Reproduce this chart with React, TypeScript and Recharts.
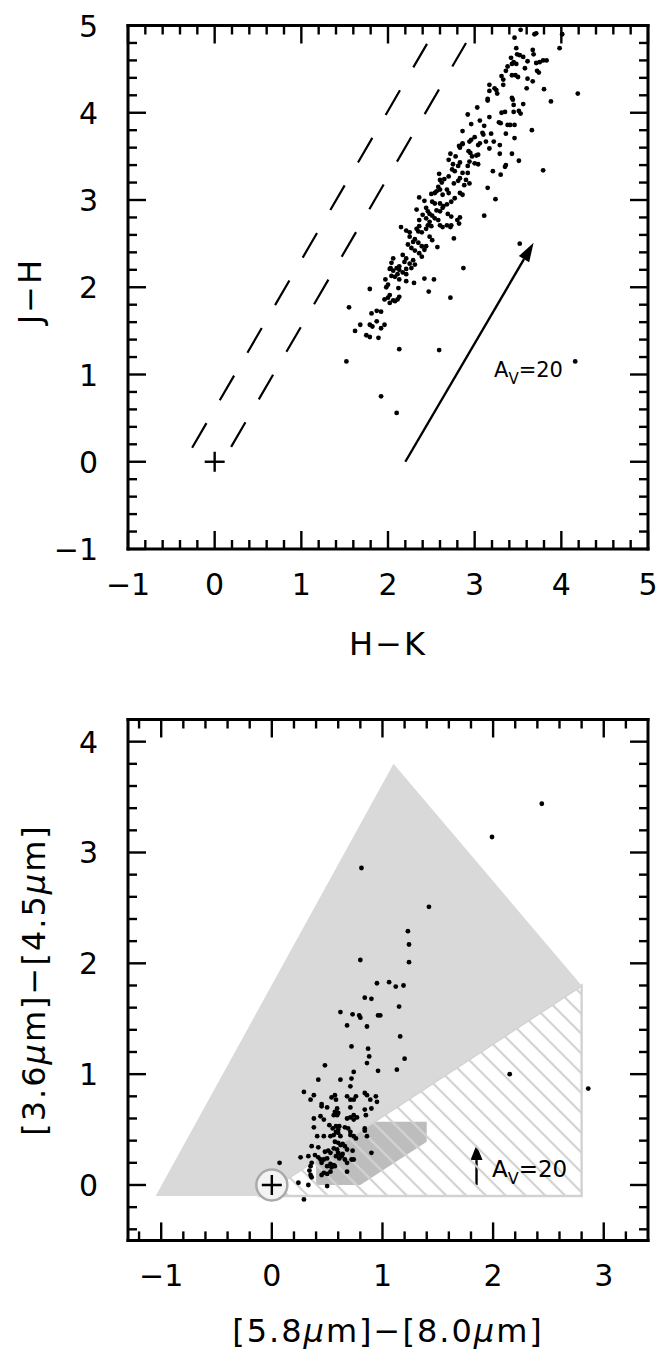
import React from "react";
import { ScatterChart, Scatter, XAxis, YAxis, ReferenceLine } from "recharts";

// ---- top panel: J-H vs H-K ----
const hkTicks = [-1, -0.8, -0.6, -0.4, -0.2, 0, 0.2, 0.4, 0.6, 0.8, 1, 1.2, 1.4, 1.6, 1.8, 2, 2.2, 2.4, 2.6, 2.8, 3, 3.2, 3.4, 3.6, 3.8, 4, 4.2, 4.4, 4.6, 4.8, 5];
const jhTicks = [-1, -0.8, -0.6, -0.4, -0.2, 0, 0.2, 0.4, 0.6, 0.8, 1, 1.2, 1.4, 1.6, 1.8, 2, 2.2, 2.4, 2.6, 2.8, 3, 3.2, 3.4, 3.6, 3.8, 4, 4.2, 4.4, 4.6, 4.8, 5];

// [H-K, J-H]
const nirStars: [number, number][] = [
  [3.53, 4.95], [3.69, 4.9], [3.71, 4.91], [4.01, 4.9], [3.46, 4.86], [3.98, 4.74], [3.48, 4.74], [3.67, 4.72],
  [3.49, 4.67], [3.52, 4.66], [3.68, 4.67], [3.42, 4.63], [3.56, 4.64], [3.45, 4.58], [3.43, 4.56], [3.38, 4.53],
  [3.48, 4.56], [3.61, 4.59], [3.71, 4.57], [3.75, 4.58], [3.83, 4.6], [3.79, 4.6], [3.36, 4.48], [3.58, 4.51],
  [3.72, 4.48], [3.74, 4.46], [3.43, 4.43], [3.47, 4.43], [3.31, 4.42], [3.5, 4.41], [3.33, 4.38], [3.61, 4.39],
  [3.67, 4.36], [3.17, 4.32], [3.23, 4.28], [3.25, 4.26], [3.33, 4.32], [3.6, 4.28], [3.8, 4.27], [3.17, 4.25],
  [3.26, 4.22], [4.19, 4.22], [3.15, 4.16], [3.15, 4.14], [3.43, 4.17], [3.44, 4.15], [3.88, 4.13], [3.45, 4.09],
  [3.56, 4.1], [3.03, 4.06], [3.31, 4.0], [3.35, 4.01], [3.45, 4.01], [3.51, 4.02], [3.53, 3.99], [2.92, 3.98],
  [3.17, 3.95], [3.06, 3.91], [2.96, 3.87], [3.28, 3.89], [3.3, 3.88], [3.38, 3.86], [3.41, 3.86], [3.46, 3.86],
  [3.11, 3.85], [2.86, 3.79], [3.09, 3.77], [3.1, 3.75], [3.19, 3.76], [3.36, 3.76], [3.66, 3.8], [3.0, 3.72],
  [2.96, 3.69], [2.94, 3.67], [3.46, 3.71], [3.06, 3.65], [3.04, 3.63], [3.13, 3.67], [3.22, 3.67], [3.29, 3.63],
  [2.86, 3.65], [2.83, 3.6], [3.17, 3.59], [2.93, 3.56], [2.95, 3.54], [3.04, 3.52], [2.72, 3.53], [2.78, 3.5],
  [3.43, 3.53], [2.97, 3.5], [3.02, 3.51],
  [2.82, 3.62], [2.86, 3.64], [3.29, 3.53], [3.51, 3.45], [2.7, 3.46], [2.75, 3.41], [2.83, 3.43], [2.81, 3.39],
  [2.94, 3.44], [3.0, 3.42], [3.04, 3.41], [2.92, 3.39], [3.36, 3.4], [3.35, 3.38], [2.74, 3.35], [2.77, 3.33],
  [2.86, 3.31], [2.92, 3.31], [2.7, 3.27], [3.21, 3.33], [2.59, 3.3], [2.83, 3.25], [2.81, 3.22], [2.9, 3.23],
  [3.3, 3.29], [2.6, 3.23], [2.62, 3.2], [2.65, 3.24], [2.76, 3.19], [2.94, 3.19], [2.88, 3.17], [3.15, 3.14],
  [2.58, 3.15], [2.6, 3.12], [2.68, 3.12], [2.7, 3.08], [2.83, 3.08], [2.86, 3.06], [2.5, 3.07], [2.54, 3.08],
  [2.56, 3.1], [2.63, 3.06], [2.77, 3.02], [2.73, 2.98], [2.36, 3.03], [2.42, 2.99], [2.51, 2.98], [2.54, 2.96],
  [2.6, 2.96], [2.64, 2.93], [2.68, 2.95], [3.24, 3.01], [3.79, 3.34], [2.33, 2.89], [2.44, 2.91], [2.46, 2.87],
  [2.48, 2.84], [2.51, 2.82], [2.56, 2.88], [2.6, 2.87], [2.54, 2.79], [2.58, 2.77], [2.63, 2.91], [2.44, 2.79],
  [2.48, 2.75], [2.46, 2.71], [2.5, 2.7], [2.4, 2.83], [2.36, 2.77], [2.36, 2.7], [2.69, 2.84], [2.73, 2.81],
  [2.83, 2.8], [2.8, 2.77], [2.6, 2.71], [2.63, 2.69], [2.68, 2.71], [2.73, 2.71], [2.72, 2.69], [2.82, 2.73],
  [3.11, 2.82], [2.15, 2.69], [2.21, 2.65], [2.25, 2.63], [2.33, 2.67], [2.35, 2.64], [2.39, 2.63], [2.44, 2.67],
  [2.48, 2.58], [2.51, 2.54], [2.76, 2.56], [2.25, 2.58], [2.31, 2.55], [2.29, 2.52], [2.35, 2.51], [2.39, 2.47],
  [2.23, 2.49], [2.27, 2.45], [2.31, 2.42], [2.44, 2.47], [2.42, 2.43], [2.57, 2.46], [2.36, 2.39], [2.39, 2.35],
  [2.17, 2.37], [2.21, 2.33], [2.19, 2.29], [2.29, 2.31], [2.25, 2.27], [2.31, 2.26], [2.06, 2.33], [2.04, 2.28],
  [2.1, 2.22], [2.13, 2.24], [2.03, 2.22], [2.27, 2.22], [2.21, 2.21], [3.52, 2.5], [2.87, 2.22],
  [2.02, 2.21], [2.06, 2.19], [2.13, 2.2], [2.17, 2.17], [2.21, 2.15], [2.11, 2.15], [2.04, 2.13], [2.08, 2.12],
  [1.97, 2.09], [2.13, 2.09], [2.21, 2.07], [2.3, 2.05], [2.42, 2.1], [2.53, 2.09], [2.0, 2.03], [1.98, 2.0],
  [2.12, 1.99], [1.79, 1.98], [2.47, 1.95], [2.02, 1.91], [2.0, 1.88], [1.96, 1.86], [2.13, 1.89], [2.11, 1.86],
  [2.08, 1.84], [2.06, 1.85], [2.72, 1.88], [2.02, 1.82], [1.55, 1.77], [1.87, 1.73], [1.92, 1.72], [1.81, 1.7],
  [1.87, 1.61], [1.68, 1.57], [1.79, 1.57], [1.82, 1.55], [1.96, 1.57], [1.92, 1.53], [1.62, 1.5], [1.75, 1.45],
  [1.79, 1.43], [1.89, 1.42], [2.13, 1.29], [2.59, 1.28], [1.52, 1.15], [1.92, 0.75], [2.1, 0.56], [4.16, 1.15],
];

// reddening band borders and vector (start, end)
const bandLeft = [{ x: -0.26, y: 0.16 }, { x: 2.45, y: 4.79 }];
const bandRight = [{ x: 0.19, y: 0.17 }, { x: 2.9, y: 4.8 }];
const nirVector = [{ x: 2.2, y: 0 }, { x: 3.68, y: 2.51 }];
const nirOrigin = [{ x: 0, y: 0 }];

// ---- bottom panel: IRAC colours ----
const irXTicks = [-1.2, -1, -0.8, -0.6, -0.4, -0.2, 0, 0.2, 0.4, 0.6, 0.8, 1, 1.2, 1.4, 1.6, 1.8, 2, 2.2, 2.4, 2.6, 2.8, 3, 3.2];
const irYTicks = [-0.4, -0.2, 0, 0.2, 0.4, 0.6, 0.8, 1, 1.2, 1.4, 1.6, 1.8, 2, 2.2, 2.4, 2.6, 2.8, 3, 3.2, 3.4, 3.6, 3.8, 4];

// [[5.8]-[8.0], [3.6]-[4.5]]
const iracStars: [number, number][] = [
  [0.81, 2.86], [1.42, 2.51], [1.23, 2.29], [1.24, 2.17], [0.8, 2.03], [1.24, 2.01], [0.95, 1.82], [1.06, 1.83],
  [1.12, 1.79], [1.19, 1.8], [0.84, 1.69], [0.9, 1.68], [1.15, 1.61], [0.62, 1.56], [0.73, 1.54], [0.79, 1.53],
  [0.8, 1.51], [0.96, 1.53], [0.98, 1.53], [2.44, 3.44], [1.99, 3.14], [2.15, 1.0], [2.86, 0.87], [0.68, 1.44],
  [0.86, 1.43], [1.16, 1.34], [0.72, 1.25], [0.87, 1.23], [0.88, 1.16], [1.2, 1.14], [0.86, 1.1], [0.48, 1.08],
  [0.96, 1.03], [1.13, 1.04], [0.74, 1.02], [0.72, 0.96], [0.42, 0.95], [0.62, 0.95], [0.71, 0.89], [0.29, 0.84],
  [0.38, 0.81], [0.35, 0.77], [0.54, 0.79], [0.57, 0.81], [0.58, 0.77], [0.68, 0.8], [0.71, 0.77], [0.74, 0.77],
  [0.76, 0.8], [0.84, 0.83], [0.86, 0.81], [0.89, 0.77], [0.94, 0.8], [0.95, 0.75], [0.45, 0.73], [0.45, 0.71],
  [0.5, 0.7], [0.59, 0.69], [0.57, 0.66], [0.6, 0.65], [0.56, 0.63], [0.59, 0.63], [0.71, 0.7], [0.74, 0.63],
  [0.84, 0.68], [0.85, 0.63], [0.9, 0.69], [0.38, 0.6], [0.38, 0.52], [0.44, 0.62], [0.47, 0.59], [0.68, 0.6],
  [0.71, 0.61], [0.74, 0.59], [0.77, 0.61], [0.52, 0.54], [0.55, 0.51], [0.58, 0.53], [0.61, 0.53], [0.6, 0.5],
  [0.66, 0.52], [0.69, 0.51], [0.71, 0.48], [0.84, 0.51], [0.84, 0.49], [0.41, 0.44], [0.47, 0.44], [0.53, 0.44],
  [0.56, 0.45], [0.58, 0.48], [0.6, 0.47], [0.62, 0.44], [0.71, 0.45], [0.74, 0.44], [0.76, 0.42], [0.86, 0.44],
  [0.57, 0.39], [0.6, 0.38], [0.62, 0.36], [0.64, 0.37], [0.36, 0.35], [0.42, 0.34], [0.56, 0.33], [0.59, 0.32],
  [0.66, 0.35], [0.68, 0.32], [0.48, 0.3], [0.51, 0.31], [0.53, 0.29], [0.6, 0.29], [0.62, 0.27], [0.64, 0.28],
  [0.73, 0.31], [0.9, 0.29], [0.26, 0.25], [0.33, 0.26], [0.39, 0.27], [0.42, 0.25], [0.44, 0.23], [0.45, 0.2],
  [0.47, 0.23], [0.5, 0.24], [0.58, 0.26], [0.61, 0.24], [0.63, 0.26], [0.66, 0.23], [0.68, 0.2], [0.72, 0.23],
  [0.74, 0.23], [0.07, 0.2], [0.36, 0.2], [0.35, 0.17], [0.53, 0.19], [0.56, 0.18], [0.5, 0.17], [0.54, 0.16],
  [0.57, 0.17], [0.47, 0.11], [0.5, 0.1], [0.53, 0.12], [0.45, 0.09], [0.34, 0.13], [0.35, 0.09], [0.36, 0.07],
  [0.68, 0.12], [0.24, 0.02], [0.33, 0.0], [0.5, -0.01], [0.29, -0.13],
];

// model regions (polygon vertices)
const class1Region = [{ x: -1.05, y: -0.1 }, { x: 1.1, y: 3.8 }, { x: 2.8, y: 1.8 }, { x: -0.1, y: -0.1 }];
const class2Region = [{ x: 0.4, y: 0 }, { x: 0.8, y: 0 }, { x: 1.4, y: 0.39 }, { x: 1.4, y: 0.57 }, { x: 0.4, y: 0.57 }];
const diskRegion = [{ x: -0.1, y: -0.1 }, { x: 2.8, y: -0.1 }, { x: 2.8, y: 1.8 }];
const iracVector = [{ x: 1.85, y: 0 }, { x: 1.85, y: 0.36 }];
const iracOrigin = [{ x: 0, y: 0 }];

const FONT = "DejaVu Sans";
const minus = (v: number) => (v < 0 ? "\u2212" + Math.abs(v) : String(v));

function makeTick(side: "bottom" | "top" | "left" | "right", labels: boolean) {
  return (props: any) => {
    const { x, y, payload } = props;
    const v = payload.value;
    const major = Math.abs(v - Math.round(v)) < 1e-6;
    const len = major ? 18 : 9;
    let x2 = x, y2 = y;
    if (side === "bottom") y2 = y - len;
    if (side === "top") y2 = y + len;
    if (side === "left") x2 = x + len;
    if (side === "right") x2 = x - len;
    return (
      <g>
        <line x1={x} y1={y} x2={x2} y2={y2} stroke="#000" strokeWidth={2.4} />
        {labels && major && side === "bottom" && (
          <text x={x} y={y + 46} textAnchor="middle" fontSize={30} fontFamily={FONT} fill="#000">
            {minus(v)}
          </text>
        )}
        {labels && major && side === "left" && (
          <text x={x - 30} y={y + 11} textAnchor="end" fontSize={30} fontFamily={FONT} fill="#000">
            {minus(v)}
          </text>
        )}
      </g>
    );
  };
}

const dot = (p: any) => <circle cx={p.cx} cy={p.cy} r={2.4} fill="#000" />;
const none = () => <g />;

const plus = (p: any) => (
  <g stroke="#000" strokeWidth={2.4}>
    <line x1={p.cx - 10} y1={p.cy} x2={p.cx + 10} y2={p.cy} />
    <line x1={p.cx} y1={p.cy - 10} x2={p.cx} y2={p.cy + 10} />
  </g>
);

const circledPlus = (p: any) => (
  <g>
    <circle cx={p.cx} cy={p.cy} r={15.5} fill="#f3f3f3" stroke="#aaaaaa" strokeWidth={2.5} />
    {plus(p)}
  </g>
);

const arrow = (head: number, half: number) => (p: any) => {
  const { x1, y1, x2, y2 } = p;
  const L = Math.hypot(x2 - x1, y2 - y1) || 1;
  const ux = (x2 - x1) / L, uy = (y2 - y1) / L;
  const bx = x2 - ux * head, by = y2 - uy * head;
  const nx = -uy * half, ny = ux * half;
  return (
    <g>
      <line x1={x1} y1={y1} x2={bx} y2={by} stroke="#000" strokeWidth={2.4} />
      <polygon points={`${x2},${y2} ${bx + nx},${by + ny} ${bx - nx},${by - ny}`} fill="#000" />
    </g>
  );
};

const polygon = (fill: string, stroke = "none", sw = 0) => (p: any) => {
  const pts = (p.points || []).map((q: any) => `${q.x},${q.y}`).join(" ");
  return <polygon points={pts} fill={fill} stroke={stroke} strokeWidth={sw} />;
};

const hatched = (p: any) => {
  const pts = (p.points || []).map((q: any) => `${q.x},${q.y}`).join(" ");
  return (
    <g>
      <defs>
        <pattern id="hatch" patternUnits="userSpaceOnUse" width={14} height={14} patternTransform="rotate(-45)">
          <line x1={7} y1={0} x2={7} y2={14} stroke="#d2d2d2" strokeWidth={2.2} />
        </pattern>
      </defs>
      <polygon points={pts} fill="url(#hatch)" stroke="#d2d2d2" strokeWidth={2.4} />
    </g>
  );
};

const frame = { stroke: "#000", strokeWidth: 3, strokeLinecap: "square" as const };

const nirData = nirStars.map(([x, y]) => ({ x, y }));
const iracData = iracStars.map(([x, y]) => ({ x, y }));

export default function App() {
  const axisCommon = { type: "number" as const, allowDataOverflow: true, interval: 0 as const, tickSize: 0, tickMargin: 0, tickLine: false, axisLine: frame };
  return (
    <div style={{ position: "absolute", left: 0, top: 0, width: 661, height: 1355, background: "#fff" }}>
      <div style={{ position: "absolute", left: 0, top: 0 }}>
        <ScatterChart width={661} height={670} margin={{ top: 24.5, right: 12, bottom: 120, left: 127 }}>
          <XAxis {...axisCommon} xAxisId="b" dataKey="x" domain={[-1, 5]} ticks={hkTicks} height={1} orientation="bottom" tick={makeTick("bottom", true)} />
          <XAxis {...axisCommon} xAxisId="t" dataKey="x" domain={[-1, 5]} ticks={hkTicks} height={1} orientation="top" tick={makeTick("top", false)} />
          <YAxis {...axisCommon} yAxisId="l" dataKey="y" domain={[-1, 5]} ticks={jhTicks} width={1} orientation="left" tick={makeTick("left", true)} />
          <YAxis {...axisCommon} yAxisId="r" dataKey="y" domain={[-1, 5]} ticks={jhTicks} width={1} orientation="right" tick={makeTick("right", false)} />
          <ReferenceLine xAxisId="b" yAxisId="l" segment={bandLeft} stroke="#000" strokeWidth={2.2} strokeDasharray="28.5 26.5" />
          <ReferenceLine xAxisId="b" yAxisId="l" segment={bandRight} stroke="#000" strokeWidth={2.2} strokeDasharray="28.5 26.5" />
          <ReferenceLine xAxisId="b" yAxisId="l" segment={nirVector} shape={arrow(19, 6)} />
          <Scatter xAxisId="b" yAxisId="l" data={nirOrigin} shape={plus} isAnimationActive={false} />
          <Scatter xAxisId="b" yAxisId="l" data={nirData} shape={dot} isAnimationActive={false} />
        </ScatterChart>
      </div>
      <div style={{ position: "absolute", left: 0, top: 680 }}>
        <ScatterChart width={661} height={675} margin={{ top: 38.5, right: 12, bottom: 113.6, left: 127 }}>
          <XAxis {...axisCommon} xAxisId="b" dataKey="x" domain={[-1.3, 3.4]} ticks={irXTicks} height={1} orientation="bottom" tick={makeTick("bottom", true)} />
          <XAxis {...axisCommon} xAxisId="t" dataKey="x" domain={[-1.3, 3.4]} ticks={irXTicks} height={1} orientation="top" tick={makeTick("top", false)} />
          <YAxis {...axisCommon} yAxisId="l" dataKey="y" domain={[-0.5, 4.2]} ticks={irYTicks} width={1} orientation="left" tick={makeTick("left", true)} />
          <YAxis {...axisCommon} yAxisId="r" dataKey="y" domain={[-0.5, 4.2]} ticks={irYTicks} width={1} orientation="right" tick={makeTick("right", false)} />
          <Scatter xAxisId="b" yAxisId="l" data={class2Region} shape={none} line={polygon("#bdbdbd")} isAnimationActive={false} />
          <Scatter xAxisId="b" yAxisId="l" data={diskRegion} shape={none} line={hatched} isAnimationActive={false} />
          <Scatter xAxisId="b" yAxisId="l" data={class1Region} shape={none} line={polygon("#d9d9d9")} isAnimationActive={false} />
          <Scatter xAxisId="b" yAxisId="l" data={iracOrigin} shape={circledPlus} isAnimationActive={false} />
          <ReferenceLine xAxisId="b" yAxisId="l" segment={iracVector} shape={arrow(15, 6)} />
          <Scatter xAxisId="b" yAxisId="l" data={iracData} shape={dot} isAnimationActive={false} />
        </ScatterChart>
      </div>
      <svg width={661} height={1355} style={{ position: "absolute", left: 0, top: 0, pointerEvents: "none" }} fontFamily={FONT}>
        <text transform="translate(41,291) rotate(-90)" textAnchor="middle" fontSize={32} letterSpacing={2}>J{"\u2212"}H</text>
        <text x={388} y={655} textAnchor="middle" fontSize={32} letterSpacing={2}>H{"\u2212"}K</text>
        <text x={494} y={377} fontSize={21}>
          A<tspan fontSize={15} dy={7}>V</tspan><tspan dy={-7}>=20</tspan>
        </text>
        <text transform="translate(45,980) rotate(-90)" textAnchor="middle" fontSize={32} letterSpacing={2}>
          [3.6<tspan fontStyle="italic">{"\u03bc"}</tspan>m]{"\u2212"}[4.5<tspan fontStyle="italic">{"\u03bc"}</tspan>m]
        </text>
        <text x={388} y={1342} textAnchor="middle" fontSize={32} letterSpacing={2}>
          [5.8<tspan fontStyle="italic">{"\u03bc"}</tspan>m]{"\u2212"}[8.0<tspan fontStyle="italic">{"\u03bc"}</tspan>m]
        </text>
        <text x={492} y={1177} fontSize={23}>
          A<tspan fontSize={16} dy={7}>V</tspan><tspan dy={-7}>=20</tspan>
        </text>
      </svg>
    </div>
  );
}
